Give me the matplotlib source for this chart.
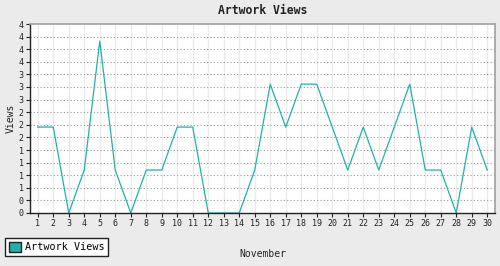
import numpy as np
import matplotlib
matplotlib.use("Agg")
import matplotlib.pyplot as plt
from matplotlib.patches import Patch

days = list(range(1, 31))
views = [2, 2, 0, 1, 4, 1, 0, 1, 1, 2,
         2, 0, 0, 0, 1, 3, 2, 3, 3, 2,
         1, 2, 1, 2, 3, 1, 1, 0, 2, 1]
series_name = "Artwork Views"
ymax = 4.4

teal = "#20b2aa"
plt.rcParams['font.family'] = ['DejaVu Sans Mono']

fig = plt.figure(figsize=(5, 2.66), dpi=100, facecolor="#ebebeb")
ax = fig.add_axes([30 / 500, 53 / 266, 465 / 500, 189 / 266])
ax.set_facecolor("white")

ax.plot(days, views, color=teal, linewidth=0.9)

ax.set_xlim(0.5, 30.5)
ax.set_ylim(0, ymax)
ax.set_xticks(days)
ax.set_xticklabels([str(d) for d in days], fontsize=6)

yt = np.linspace(0, ymax, 16)
ax.set_yticks(yt)
ax.set_yticklabels(["%d" % int(round(v)) for v in yt], fontsize=6)

# grid: light solid verticals, dotted horizontals
for d in days:
    ax.axvline(d, color="#ebebeb", linewidth=1, zorder=0)
for v in yt[1:-1]:
    ax.axhline(v, color="#999999", linewidth=0.8, linestyle=(0, (1, 2)), zorder=0)

ax.tick_params(axis="both", length=3, width=0.8, pad=1.5, colors="#222222")
for side in ("top", "right"):
    ax.spines[side].set_color("#a0a0a0")
    ax.spines[side].set_linewidth(1.2)
for side in ("left", "bottom"):
    ax.spines[side].set_color("#222222")
    ax.spines[side].set_linewidth(1)

ax.set_title("Artwork Views", fontsize=8.3, fontweight="bold", pad=7, color="#222222")
ax.set_xlabel("November", fontsize=7, labelpad=15, color="#222222")
ax.set_ylabel("Views", fontsize=7, labelpad=2, color="#222222")

handle = Patch(facecolor=teal, edgecolor="#222222", label=series_name)
leg = fig.legend(handles=[handle], loc="lower left",
                 bbox_to_anchor=(5 / 500, 10 / 266), fontsize=7.3,
                 fancybox=False, framealpha=1, edgecolor="#222222",
                 handlelength=1.2, handleheight=1.2, handletextpad=0.4,
                 borderpad=0.35, borderaxespad=0)
leg.get_frame().set_linewidth(1)

fig.savefig("out.png", dpi=100, facecolor=fig.get_facecolor())
